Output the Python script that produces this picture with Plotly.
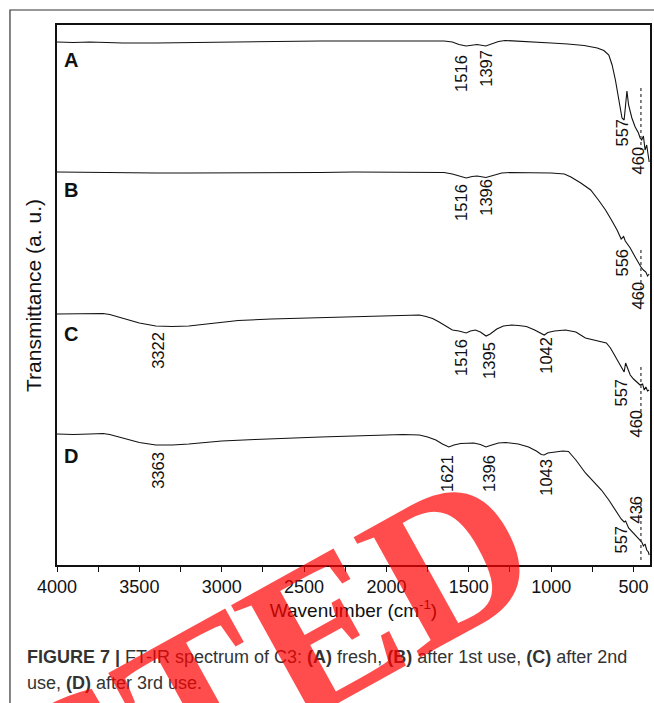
import plotly.graph_objects as go

# ---------------- data (wavenumber cm-1, transmittance a.u. with offsets) ----------------
wn_A = [4000, 3900, 3800, 3700, 3600, 3400, 3200, 3000, 2800, 2600, 2400, 2200, 2000, 1800, 1650,
        1600, 1560, 1516, 1480, 1450, 1397, 1360, 1320, 1280, 1200, 1100, 1000, 900, 800, 720,
        680, 650, 630, 610, 590, 570, 557, 548, 540, 530, 510, 490, 470, 460, 450,
        440, 430, 420, 410, 405]
t_A = [52.4, 52.35, 52.4, 52.35, 52.3, 52.3, 52.35, 52.4, 52.45, 52.45, 52.5, 52.5, 52.5, 52.5, 52.5,
       52.4, 52.15, 52.0, 52.1, 52.15, 52.0, 52.2, 52.45, 52.55, 52.5, 52.4, 52.3, 52.2, 52.05, 51.8,
       51.55, 51.1, 50.1, 48.6, 46.6, 44.8, 44.6, 46.6, 47.5, 46.1, 44.8, 43.9, 43.3, 42.8, 42.6,
       43.0, 41.6, 42.1, 40.6, 40.4]

wn_B = [4000, 3800, 3600, 3400, 3200, 3000, 2800, 2600, 2400, 2200, 2000, 1800, 1650, 1600, 1560,
        1516, 1480, 1450, 1396, 1350, 1300, 1250, 1100, 1000, 920, 880, 820, 760, 713, 670,
        634, 600, 575, 560, 550, 520, 490, 470, 455, 440, 425, 415, 405]
t_B = [39.4, 39.35, 39.3, 39.3, 39.3, 39.3, 39.35, 39.35, 39.35, 39.4, 39.4, 39.4, 39.35, 39.2, 39.0,
       38.8, 38.95, 39.0, 38.85, 39.1, 39.3, 39.35, 39.35, 39.3, 39.2, 38.9, 38.3, 37.6, 36.6, 35.6,
       34.6, 33.6, 32.7, 32.95, 32.5, 31.8, 30.9, 30.3, 29.9, 29.6, 29.4, 29.0, 29.2]

wn_C = [4000, 3900, 3800, 3720, 3680, 3600, 3500, 3400, 3300, 3200, 3100, 3000, 2900, 2700, 2500,
        2300, 2100, 1900, 1800, 1760, 1720, 1680, 1640, 1600, 1560, 1516, 1490, 1460, 1430, 1395,
        1370, 1330, 1290, 1240, 1200, 1150, 1100, 1060, 1042, 1020, 980, 913, 850, 792, 720,
        665, 640, 610, 585, 570, 557, 548, 540, 520, 500, 480, 460, 445, 435, 425,
        415, 405]
t_C = [25.2, 25.2, 25.25, 25.25, 25.15, 24.8, 24.3, 24.0, 23.95, 24.0, 24.2, 24.4, 24.55, 24.7, 24.8,
       24.9, 25.0, 25.1, 25.1, 24.95, 24.75, 24.4, 24.0, 23.6, 23.5, 23.3, 23.5, 23.6, 23.4, 23.0,
       23.2, 23.7, 24.0, 24.1, 24.05, 23.95, 23.6, 23.2, 23.1, 23.35, 23.5, 23.6, 23.4, 22.8, 22.5,
       22.3, 21.8, 20.9, 20.1, 19.7, 19.4, 20.3, 19.9, 19.1, 18.7, 18.4, 18.1, 18.2, 17.6, 17.9,
       17.5, 17.6]

wn_D = [4000, 3900, 3800, 3720, 3680, 3600, 3500, 3400, 3300, 3200, 3000, 2800, 2600, 2400, 2200,
        2000, 1900, 1800, 1750, 1700, 1660, 1621, 1590, 1550, 1516, 1470, 1430, 1396, 1370, 1320,
        1276, 1200, 1137, 1090, 1060, 1043, 1020, 980, 930, 895, 850, 792, 740, 695, 650,
        610, 575, 557, 548, 530, 500, 471, 450, 440, 430, 420, 410, 405]
t_D = [13.2, 13.15, 13.2, 13.25, 13.15, 12.8, 12.35, 12.1, 12.1, 12.2, 12.5, 12.65, 12.8, 12.9, 13.0,
       13.1, 13.15, 13.1, 12.9, 12.6, 12.2, 11.9, 12.1, 12.25, 12.3, 12.3, 12.15, 11.9, 12.05, 12.3,
       12.35, 12.2, 11.9, 11.5, 11.15, 11.1, 11.3, 11.4, 11.5, 11.45, 10.6, 9.3, 8.4, 7.6, 6.6,
       5.6, 4.7, 4.4, 4.5, 3.8, 3.3, 2.8, 2.4, 2.0, 2.2, 1.6, 1.4, 1.1]

spectra_names = ["A", "B", "C", "D"]
spectra_wn = [wn_A, wn_B, wn_C, wn_D]
spectra_t = [t_A, t_B, t_C, t_D]

# curve letters
letter_wn = [3970, 3970, 3970, 3970]
letter_t = [50.6, 37.6, 23.2, 11.0]

# dotted marker lines near 460 / 436 cm-1
dot_wn = 455
dot_top = [47.8, 31.6, 19.9, 6.3]
dot_bottom = [41.6, 26.1, 14.6, 0.6]

# peak labels: text, position wavenumber, position transmittance
peak_text = ["1516", "1397", "557", "460",
             "1516", "1396", "556", "460",
             "3322", "1516", "1395", "1042", "557", "460",
             "3363", "1621", "1396", "1043", "557", "436"]
peak_wn = [1548, 1397, 573, 470,
           1548, 1397, 573, 470,
           3388, 1548, 1378, 1033, 579, 488,
           3388, 1633, 1378, 1033, 579, 488]
peak_t = [49.3, 49.8, 43.3, 40.6,
          36.4, 36.9, 30.3, 27.1,
          21.6, 20.9, 20.6, 21.1, 17.3, 14.2,
          9.6, 9.3, 9.3, 8.9, 2.6, 5.6]

x_tickvals = [4000, 3500, 3000, 2500, 2000, 1500, 1000, 500]
x_ticktext = ["4000", "3500", "3000", "2500", "2000", "1500", "1000", "500"]
x_minor_tickvals = [3750, 3250, 2750, 2250, 1750, 1250, 750]

caption_line1 = ("<b>FIGURE 7 |</b> FT-IR spectrum of C3: <b>(A)</b> fresh, <b>(B)</b> after 1st use, "
                 "<b>(C)</b> after 2nd")
caption_line2 = "use, <b>(D)</b> after 3rd use."

# ---------------- figure ----------------
SANS = "Liberation Sans, Arial, sans-serif"
fig = go.Figure()

for name, xs, ys in zip(spectra_names, spectra_wn, spectra_t):
    fig.add_trace(go.Scatter(x=xs, y=ys, mode="lines", name=name,
                             line=dict(color="#111111", width=1.1), showlegend=False,
                             hoverinfo="skip"))

for top, bot in zip(dot_top, dot_bottom):
    fig.add_trace(go.Scatter(x=[dot_wn, dot_wn], y=[top, bot], mode="lines",
                             line=dict(color="#333333", width=1.2, dash="dot"),
                             showlegend=False, hoverinfo="skip"))

annotations = []
for name, xw, yt in zip(spectra_names, letter_wn, letter_t):
    annotations.append(dict(x=xw, y=yt, xref="x", yref="y", text="<b>%s</b>" % name,
                            showarrow=False, xanchor="left", yanchor="middle",
                            font=dict(family=SANS, size=20, color="#111111")))

for txt, xw, yt in zip(peak_text, peak_wn, peak_t):
    annotations.append(dict(x=xw, y=yt, xref="x", yref="y", text=txt, textangle=-90,
                            showarrow=False, xanchor="center", yanchor="middle",
                            font=dict(family=SANS, size=16.5, color="#111111")))

# y axis title
annotations.append(dict(x=-0.0405, y=0.5, xref="paper", yref="paper",
                        text="Transmittance (a. u.)", textangle=-90, showarrow=False,
                        xanchor="center", yanchor="middle",
                        font=dict(family=SANS, size=21, color="#111111")))

# caption
annotations.append(dict(x=-0.054, y=-0.1704, xref="paper", yref="paper", text=caption_line1,
                        showarrow=False, xanchor="left", yanchor="middle",
                        font=dict(family=SANS, size=18, color="#333333")))
annotations.append(dict(x=-0.054, y=-0.2185, xref="paper", yref="paper", text=caption_line2,
                        showarrow=False, xanchor="left", yanchor="middle",
                        font=dict(family=SANS, size=18, color="#333333")))

# watermark stamp
annotations.append(dict(x=-0.199, y=-0.514, xref="paper", yref="paper", text="<b>RETRACTED</b>",
                        textangle=-29, showarrow=False, xanchor="center", yanchor="middle",
                        font=dict(family="Liberation Serif, Times New Roman, serif", size=210,
                                  color="rgba(255,0,0,0.7)")))

fig.update_layout(
    width=654, height=703,
    margin=dict(l=57, r=4, t=25, b=138, autoexpand=False),
    paper_bgcolor="white", plot_bgcolor="white",
    annotations=annotations,
    shapes=[dict(type="rect", xref="paper", yref="paper", x0=-0.0793, x1=1.2, y0=-0.6, y1=1.0278,
                 line=dict(color="#333333", width=1.2), fillcolor="rgba(0,0,0,0)", layer="below")],
)

fig.update_xaxes(
    range=[4000, 400], tickmode="array", tickvals=x_tickvals, ticktext=x_ticktext,
    ticks="outside", ticklen=5, tickwidth=1.2, tickcolor="#111111",
    minor=dict(ticks="outside", ticklen=5, tickwidth=1.2, tickcolor="#111111",
               tickmode="array", tickvals=x_minor_tickvals),
    showline=True, linecolor="#111111", linewidth=1.5, mirror=True,
    showgrid=False, zeroline=False,
    tickfont=dict(family=SANS, size=18, color="#111111"),
    title=dict(text="Wavenumber (cm<sup>-1</sup>)", standoff=0,
               font=dict(family=SANS, size=19, color="#111111")),
)
fig.update_yaxes(
    range=[0.1, 54.1], showticklabels=False, ticks="",
    showline=True, linecolor="#111111", linewidth=1.5, mirror=True,
    showgrid=False, zeroline=False,
)

# remove the default page margin so the 654x703 figure fills the window exactly
page_fix = ("document.body.style.margin='0px';"
            "document.body.style.overflow='hidden';"
            "document.documentElement.style.overflow='hidden';")
fig.write_html("out.html", post_script=page_fix, config={"displayModeBar": False})
